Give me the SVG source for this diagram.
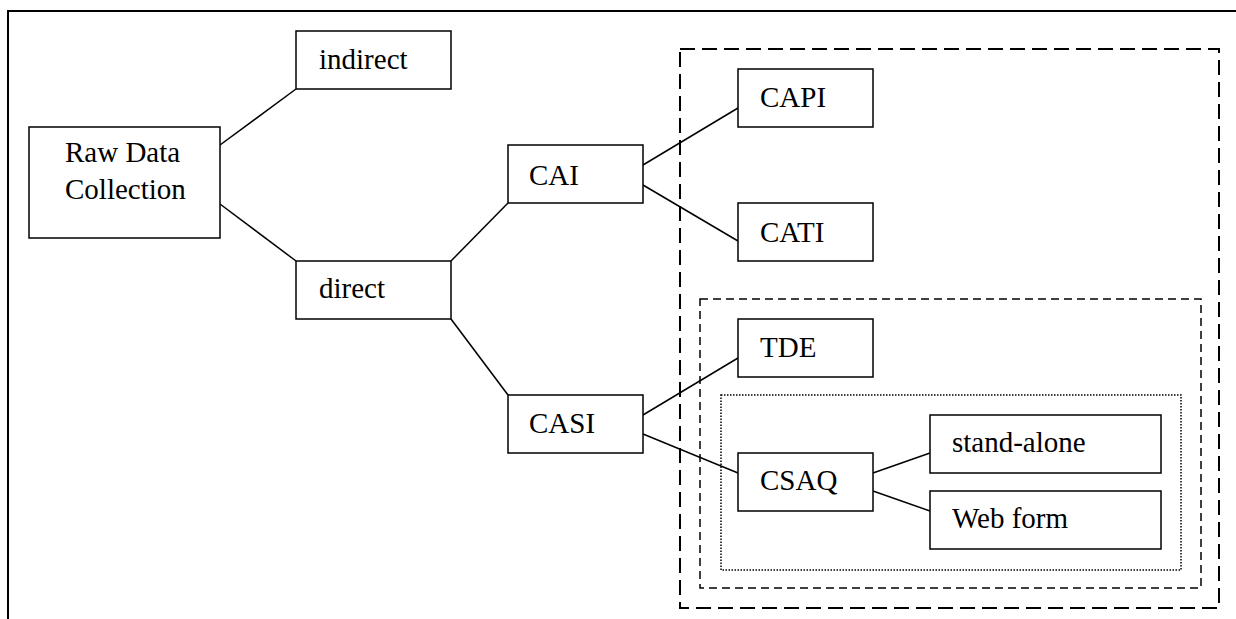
<svg xmlns="http://www.w3.org/2000/svg" width="1236" height="619" viewBox="0 0 1236 619">
<style>
.box{fill:#fff;stroke:#000;stroke-width:1.5}
.lbl{font-family:"Liberation Serif","Times New Roman",serif;font-size:29px;fill:#000}
.con{stroke:#000;stroke-width:1.5;fill:none}
.frame{stroke:#000;stroke-width:2;fill:none}
.d1{fill:none;stroke:#000;stroke-width:2;stroke-dasharray:15 7}
.d2{fill:none;stroke:#000;stroke-width:1.5;stroke-dasharray:8 5}
.d3{fill:none;stroke:#000;stroke-width:1.5;stroke-dasharray:1.5 1.5}
</style>
<rect width="1236" height="619" fill="#fff"/>
<path class="frame" d="M8,619 V11 H1236"/>
<g id="groups">
<rect class="d1" x="680" y="49" width="539" height="559"/>
<rect class="d2" x="700" y="299" width="501" height="289"/>
<rect class="d3" x="721" y="395" width="460" height="175"/>
</g>
<g id="connectors">
<line class="con" x1="220" y1="145" x2="296" y2="89"/>
<line class="con" x1="220" y1="204" x2="296" y2="261"/>
<line class="con" x1="451" y1="261" x2="508" y2="203"/>
<line class="con" x1="451" y1="319" x2="508" y2="395"/>
<line class="con" x1="643" y1="165" x2="738" y2="108"/>
<line class="con" x1="643" y1="185" x2="738" y2="241"/>
<line class="con" x1="643" y1="415" x2="738" y2="358"/>
<line class="con" x1="643" y1="434" x2="738" y2="473"/>
<line class="con" x1="873" y1="473" x2="930" y2="453"/>
<line class="con" x1="873" y1="491" x2="930" y2="511"/>
</g>
<g id="raw"><rect class="box" x="29" y="127" width="191" height="111"/><text class="lbl" x="65" y="162">Raw Data</text><text class="lbl" x="65" y="199">Collection</text></g>
<g id="indirect"><rect class="box" x="296" y="31" width="155" height="58"/><text class="lbl" x="319" y="69">indirect</text></g>
<g id="direct"><rect class="box" x="296" y="261" width="155" height="58"/><text class="lbl" x="319" y="298">direct</text></g>
<g id="cai"><rect class="box" x="508" y="145" width="135" height="58"/><text class="lbl" x="529" y="185">CAI</text></g>
<g id="casi"><rect class="box" x="508" y="395" width="135" height="58"/><text class="lbl" x="529" y="433">CASI</text></g>
<g id="capi"><rect class="box" x="738" y="69" width="135" height="58"/><text class="lbl" x="760" y="107">CAPI</text></g>
<g id="cati"><rect class="box" x="738" y="203" width="135" height="58"/><text class="lbl" x="760" y="242">CATI</text></g>
<g id="tde"><rect class="box" x="738" y="319" width="135" height="58"/><text class="lbl" x="760" y="357">TDE</text></g>
<g id="csaq"><rect class="box" x="738" y="453" width="135" height="58"/><text class="lbl" x="760" y="490">CSAQ</text></g>
<g id="standalone"><rect class="box" x="930" y="415" width="231" height="58"/><text class="lbl" x="952" y="452">stand-alone</text></g>
<g id="webform"><rect class="box" x="930" y="491" width="231" height="58"/><text class="lbl" x="952" y="528">Web form</text></g>
</svg>
